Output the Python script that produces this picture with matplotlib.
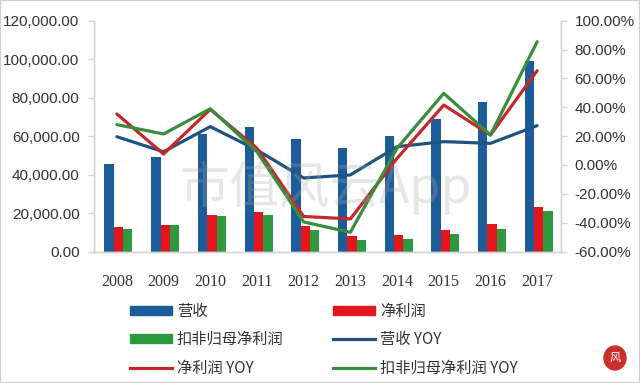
import matplotlib
matplotlib.use("Agg")
import matplotlib.pyplot as plt
import numpy as np
from matplotlib.patches import Rectangle, Ellipse
from matplotlib.lines import Line2D
from matplotlib.ticker import FuncFormatter

plt.rcParams["font.family"] = ["Noto Sans CJK SC", "DejaVu Sans"]
plt.rcParams["axes.unicode_minus"] = False

years = ["2008", "2009", "2010", "2011", "2012", "2013", "2014", "2015", "2016", "2017"]
revenue = [45500, 49000, 60900, 64900, 58600, 53800, 60200, 69000, 78000, 98900]
net_profit = [12900, 13600, 19000, 20500, 13300, 8100, 8600, 11300, 14300, 23300]
deducted_profit = [11500, 13600, 18300, 19100, 11200, 6000, 6700, 9300, 11500, 21200]
revenue_yoy = [19.6, 9.2, 26.6, 10.4, -9.0, -6.9, 12.7, 16.2, 15.0, 27.3]
net_profit_yoy = [35.4, 7.6, 38.6, 11.6, -35.7, -37.4, 4.6, 41.6, 20.8, 65.4]
deducted_yoy = [28.0, 21.5, 39.0, 9.2, -39.5, -46.7, 11.6, 49.7, 20.8, 85.5]

C_BLUE = "#1d5c9a"
C_RED = "#e3161c"
C_GREEN = "#2e9a3f"
L_BLUE = "#1f5382"
L_RED = "#c4282b"
L_GREEN = "#3a8d3d"
AXIS_GRAY = "#d6d6d6"
TEXT = "#333333"

fig = plt.figure(figsize=(6.4, 3.83), dpi=100)
ax = fig.add_axes([93.5 / 640, 1 - 251.5 / 383, 467 / 640, 230.7 / 383])
ax2 = ax.twinx()

x = np.arange(len(years))
w = 0.2
ax.bar(x - 0.165, revenue, w, color=C_BLUE, zorder=2)
ax.bar(x + 0.035, net_profit, w, color=C_RED, zorder=2)
ax.bar(x + 0.235, deducted_profit, w, color=C_GREEN, zorder=2)

ax2.plot(x, revenue_yoy, color=L_BLUE, lw=2.3, solid_capstyle="round")
ax2.plot(x, net_profit_yoy, color=L_RED, lw=2.3, solid_capstyle="round")
ax2.plot(x, deducted_yoy, color=L_GREEN, lw=2.3, solid_capstyle="round")

ax.set_xlim(-0.5, 9.5)
ax.set_ylim(0, 120000)
ax2.set_ylim(-60, 100)
ax.set_yticks(np.arange(0, 120001, 20000))
ax2.set_yticks(np.arange(-60, 101, 20))
ax.set_xticks(x)
ax.set_xticklabels(years, fontfamily="Liberation Serif", fontsize=11.5, color=TEXT)
ax.yaxis.set_major_formatter(FuncFormatter(lambda v, p: f"{v:,.2f}"))
ax2.yaxis.set_major_formatter(FuncFormatter(lambda v, p: f"{v:.2f}%"))

for a in (ax, ax2):
    a.spines["top"].set_visible(False)
    for side in ("left", "right", "bottom"):
        a.spines[side].set_color(AXIS_GRAY)
        a.spines[side].set_linewidth(1.0)
    a.tick_params(axis="y", colors=AXIS_GRAY, length=4, width=1, labelsize=11, labelcolor=TEXT, pad=6)
    for lab in a.get_yticklabels():
        lab.set_fontfamily("Liberation Sans")
ax.tick_params(axis="x", length=0, pad=16)

# legend
handles = [
    Rectangle((0, 0), 1, 1, color=C_BLUE),
    Rectangle((0, 0), 1, 1, color=C_GREEN),
    Line2D([], [], color=L_RED, lw=2.3),
    Rectangle((0, 0), 1, 1, color=C_RED),
    Line2D([], [], color=L_BLUE, lw=2.3),
    Line2D([], [], color=L_GREEN, lw=2.3),
]
labels = ["营收", "扣非归母净利润", "净利润 YOY", "净利润", "营收 YOY", "扣非归母净利润 YOY"]
fig.legend(handles, labels, loc="upper left", bbox_to_anchor=(122 / 640, 1 - 295 / 383),
           ncol=2, frameon=False, fontsize=11, handlelength=2.75, handleheight=0.5,
           handletextpad=0.35, columnspacing=3.2, labelspacing=0.75, borderpad=0,
           labelcolor=TEXT)

# watermark
fig.text(326 / 640, 1 - 188 / 383, "市值风云App", fontsize=36, color="#a8a8a8", alpha=0.28,
         ha="center", va="center", zorder=10)

# seal
fig.patches.append(Ellipse((615 / 640, 1 - 358 / 383), 22 / 640, 24 / 383, transform=fig.transFigure,
                           color="#c9302c", zorder=5))
fig.text(615 / 640, 1 - 358 / 383, "风", fontsize=8, color="white", ha="center", va="center", zorder=6)

fig.patches.append(Rectangle((0, 0), 1, 1, transform=fig.transFigure, fill=False,
                             edgecolor="#d0d0d0", lw=1.5))

fig.savefig("out.png", dpi=100)
